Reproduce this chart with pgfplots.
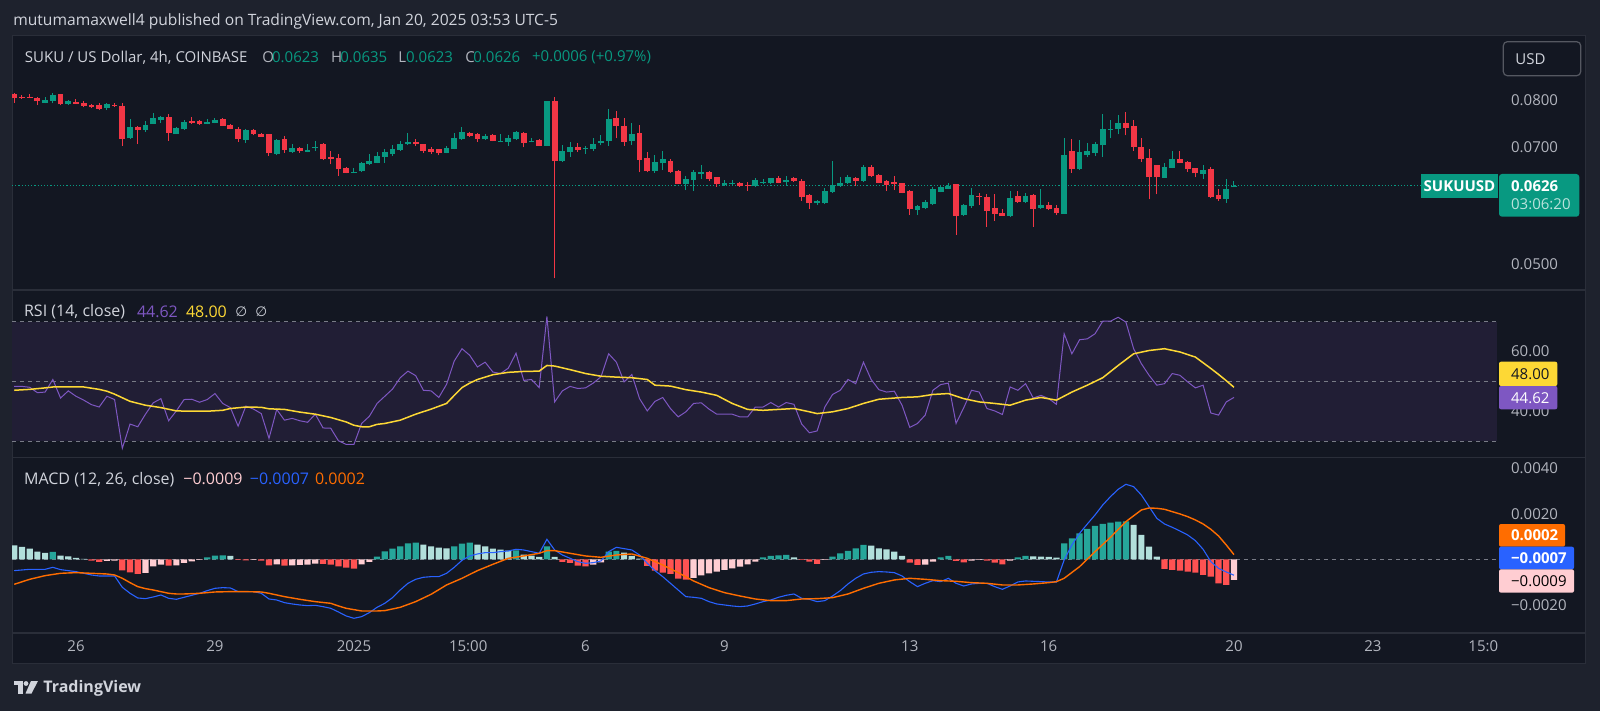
\documentclass[border=0pt]{standalone}
\usepackage{fontspec}
\setmainfont{Open Sans}
\newfontfamily\dejavu{DejaVu Sans}
\usepackage{pgfplots}
\usepackage{pgfplotstable}
\pgfplotsset{compat=1.18}

\definecolor{outer}{HTML}{1E222D}
\definecolor{pane}{HTML}{131722}
\definecolor{sep}{HTML}{2A2E39}
\definecolor{txt}{HTML}{D1D4DC}
\definecolor{muted}{HTML}{B2B5BE}
\definecolor{up}{HTML}{089981}
\definecolor{down}{HTML}{F23645}
\definecolor{rsiline}{HTML}{7E57C2}
\definecolor{rsima}{HTML}{FDD835}
\definecolor{rsiband}{HTML}{211E35}
\definecolor{level}{HTML}{787B86}
\definecolor{macdline}{HTML}{2962FF}
\definecolor{signal}{HTML}{FF6D00}
\definecolor{histD}{HTML}{26A69A}
\definecolor{histL}{HTML}{B2DFDB}
\definecolor{histR}{HTML}{FF5252}
\definecolor{histP}{HTML}{FFCDD2}

\newcommand\tv{\fontsize{7.5}{9}\selectfont}
\newcommand\tvh{\fontsize{8}{9}\selectfont}

% 4h candles, k = number of 4h bars after Dec 26 00:00
\pgfplotstableread{
k o h l c
-4 0.07939 0.08062 0.07924 0.08000
-3 0.07985 0.08154 0.07924 0.08116
-1 0.07909 0.08000 0.07894 0.07985
4 0.07827 0.07924 0.07775 0.07909
7 0.07170 0.07570 0.07156 0.07406
9 0.07350 0.07527 0.07301 0.07456
10 0.07470 0.07716 0.07470 0.07592
11 0.07555 0.07643 0.07498 0.07628
13 0.07259 0.07413 0.07259 0.07378
14 0.07357 0.07555 0.07343 0.07520
17 0.07477 0.07570 0.07463 0.07512
18 0.07498 0.07592 0.07484 0.07555
22 0.07136 0.07364 0.07082 0.07343
26 0.06863 0.07150 0.06830 0.07136
28 0.06902 0.07055 0.06882 0.06974
30 0.06902 0.07055 0.06889 0.06928
31 0.06974 0.07116 0.06921 0.06994
36 0.06499 0.06581 0.06487 0.06518
37 0.06524 0.06700 0.06512 0.06675
38 0.06662 0.06856 0.06643 0.06726
39 0.06688 0.06902 0.06675 0.06817
40 0.06804 0.06954 0.06688 0.06902
41 0.06863 0.07028 0.06817 0.06947
42 0.06934 0.07116 0.06921 0.07048
43 0.07048 0.07273 0.07034 0.07102
48 0.06882 0.07014 0.06869 0.06967
49 0.06954 0.07287 0.06947 0.07177
50 0.07150 0.07406 0.07136 0.07301
53 0.07150 0.07252 0.07136 0.07218
55 0.07095 0.07259 0.07089 0.07116
56 0.07095 0.07238 0.07021 0.07184
57 0.07150 0.07322 0.07143 0.07301
59 0.07095 0.07177 0.07089 0.07116
61 0.07021 0.07985 0.07014 0.07977
63 0.06719 0.07034 0.06706 0.06921
64 0.06902 0.07095 0.06804 0.07001
66 0.06947 0.07021 0.06856 0.06981
67 0.06954 0.07170 0.06915 0.07055
68 0.07082 0.07232 0.07028 0.07116
69 0.07116 0.07790 0.07021 0.07570
72 0.07116 0.07498 0.07041 0.07266
75 0.06531 0.06843 0.06499 0.06707
76 0.06675 0.06921 0.06549 0.06752
79 0.06298 0.06437 0.06185 0.06382
80 0.06364 0.06549 0.06167 0.06512
81 0.06481 0.06644 0.06389 0.06512
84 0.06268 0.06364 0.06256 0.06316
85 0.06292 0.06364 0.06268 0.06310
88 0.06250 0.06395 0.06244 0.06364
89 0.06316 0.06377 0.06292 0.06328
90 0.06316 0.06407 0.06292 0.06395
92 0.06322 0.06444 0.06280 0.06364
96 0.05954 0.06011 0.05925 0.05994
97 0.05954 0.06214 0.05943 0.06173
98 0.06156 0.06719 0.06138 0.06280
99 0.06256 0.06419 0.06244 0.06316
100 0.06316 0.06456 0.06298 0.06413
102 0.06352 0.06643 0.06334 0.06599
109 0.05841 0.05931 0.05758 0.05914
110 0.05869 0.06011 0.05858 0.05977
111 0.05937 0.06244 0.05925 0.06203
112 0.06156 0.06256 0.06144 0.06238
113 0.06209 0.06304 0.06197 0.06262
115 0.05758 0.05943 0.05747 0.05925
116 0.05908 0.06226 0.05880 0.06097
121 0.05742 0.06162 0.05731 0.06045
123 0.05983 0.06126 0.05965 0.06080
125 0.05880 0.06203 0.05864 0.05925
128 0.05780 0.07177 0.05775 0.06836
130 0.06568 0.07136 0.06549 0.06895
131 0.06836 0.07082 0.06791 0.06915
132 0.06882 0.07095 0.06817 0.07055
133 0.07028 0.07686 0.06804 0.07364
134 0.07343 0.07555 0.07170 0.07371
135 0.07357 0.07672 0.07252 0.07491
141 0.06407 0.06688 0.06401 0.06612
142 0.06593 0.06908 0.06581 0.06752
146 0.06481 0.06637 0.06377 0.06549
149 0.06034 0.06382 0.05965 0.06203
150 0.06230 0.06350 0.06230 0.06260
}\upc

\pgfplotstableread{
k o h l c
-8 0.08131 0.08170 0.07939 0.08054
-7 0.08077 0.08123 0.08031 0.08046
-6 0.08077 0.08131 0.08039 0.08054
-5 0.08046 0.08062 0.07894 0.07970
-2 0.08131 0.08139 0.07879 0.07901
0 0.07954 0.08015 0.07909 0.07916
1 0.07924 0.07970 0.07834 0.07864
2 0.07886 0.07909 0.07819 0.07834
3 0.07886 0.07924 0.07775 0.07805
5 0.07894 0.07924 0.07849 0.07864
6 0.07864 0.07924 0.07021 0.07156
8 0.07399 0.07434 0.07055 0.07343
12 0.07628 0.07686 0.07122 0.07287
15 0.07534 0.07628 0.07470 0.07498
16 0.07534 0.07555 0.07456 0.07470
19 0.07570 0.07592 0.07427 0.07434
20 0.07456 0.07463 0.07357 0.07357
21 0.07364 0.07413 0.07095 0.07156
23 0.07343 0.07371 0.07231 0.07259
24 0.07266 0.07287 0.07204 0.07204
25 0.07252 0.07259 0.06824 0.06869
27 0.07156 0.07218 0.06882 0.06934
29 0.06974 0.07001 0.06882 0.06921
32 0.07055 0.07068 0.06739 0.06765
33 0.06797 0.06915 0.06656 0.06765
34 0.06778 0.06856 0.06437 0.06562
35 0.06581 0.06599 0.06487 0.06499
44 0.07095 0.07156 0.07014 0.07048
45 0.07048 0.07055 0.06882 0.06921
46 0.06961 0.07001 0.06856 0.06902
47 0.06954 0.06961 0.06830 0.06869
51 0.07287 0.07294 0.07204 0.07225
52 0.07252 0.07273 0.07102 0.07156
54 0.07238 0.07252 0.07109 0.07116
58 0.07287 0.07308 0.06988 0.07082
60 0.07136 0.07150 0.07014 0.07021
62 0.07977 0.08077 0.04805 0.06713
65 0.07001 0.07068 0.06902 0.06934
70 0.07592 0.07745 0.07170 0.07434
71 0.07434 0.07599 0.07021 0.07102
73 0.07273 0.07441 0.06506 0.06739
74 0.06771 0.06889 0.06506 0.06531
77 0.06720 0.06765 0.06499 0.06512
78 0.06531 0.06543 0.06292 0.06298
82 0.06512 0.06537 0.06352 0.06389
83 0.06413 0.06425 0.06244 0.06298
86 0.06310 0.06322 0.06244 0.06256
87 0.06280 0.06328 0.06173 0.06262
91 0.06395 0.06444 0.06304 0.06316
93 0.06395 0.06419 0.06334 0.06346
94 0.06352 0.06377 0.06000 0.06068
95 0.06091 0.06114 0.05858 0.05954
101 0.06401 0.06413 0.06256 0.06346
103 0.06612 0.06643 0.06425 0.06437
104 0.06462 0.06475 0.06304 0.06310
105 0.06352 0.06364 0.06173 0.06274
106 0.06322 0.06444 0.06185 0.06298
107 0.06304 0.06316 0.06126 0.06138
108 0.06167 0.06185 0.05758 0.05864
114 0.06286 0.06292 0.05443 0.05747
117 0.06085 0.06138 0.05925 0.06057
118 0.06062 0.06114 0.05570 0.05830
119 0.05869 0.06114 0.05661 0.05775
120 0.05792 0.05852 0.05742 0.05747
122 0.06080 0.06167 0.05965 0.05983
124 0.06097 0.06114 0.05570 0.05864
126 0.05925 0.05977 0.05841 0.05852
127 0.05880 0.05925 0.05758 0.05786
129 0.06908 0.07163 0.06499 0.06562
136 0.07491 0.07731 0.07231 0.07392
137 0.07420 0.07555 0.06921 0.07001
138 0.06994 0.07170 0.06707 0.06752
139 0.06778 0.06954 0.06022 0.06413
140 0.06643 0.06643 0.06109 0.06413
143 0.06765 0.06915 0.06675 0.06688
144 0.06700 0.06713 0.06518 0.06562
145 0.06581 0.06593 0.06413 0.06487
147 0.06562 0.06612 0.06051 0.06062
148 0.06097 0.06203 0.06000 0.06022
}\downc

\pgfplotstableread{
k v
-8 48.3
-7 48.3
-6 48.0
-5 46.2
-4 46.4
-3 50.6
-2 44.4
-1 46.8
0 45.0
1 43.7
2 42.2
3 41.4
4 45.0
5 43.9
6 27.6
7 35.7
8 34.8
9 39.0
10 42.8
11 44.2
12 36.8
13 40.1
14 43.9
15 44.0
16 43.0
17 43.9
18 45.9
19 42.6
20 41.2
21 35.0
22 41.7
23 40.7
24 39.2
25 30.9
26 40.6
27 37.0
28 37.6
29 36.8
30 36.3
31 39.0
32 34.4
33 34.3
34 30.1
35 28.9
36 28.9
37 35.9
38 38.3
39 42.6
40 45.0
41 47.4
42 51.2
43 53.4
44 51.9
45 47.0
46 46.8
47 44.6
48 49.0
49 56.8
50 60.9
51 58.7
52 54.8
53 56.4
54 53.1
55 52.6
56 54.4
57 59.4
58 50.3
59 50.6
60 47.9
61 71.7
62 43.1
63 46.8
64 48.3
65 47.6
66 47.8
67 49.4
68 51.5
69 59.2
70 56.4
71 49.8
72 52.3
73 44.2
74 40.1
75 43.3
76 44.6
77 40.9
78 38.1
79 39.8
80 42.6
81 42.8
82 40.7
83 39.0
84 39.0
85 39.0
86 38.1
87 38.1
88 41.4
89 41.4
90 42.9
91 41.4
92 42.9
93 42.3
94 35.7
95 32.8
96 33.4
97 41.4
98 45.6
99 47.0
100 50.6
101 49.2
102 56.4
103 50.6
104 47.2
105 46.4
106 46.7
107 42.0
108 34.6
109 35.9
110 38.7
111 47.0
112 48.9
113 49.4
114 35.9
115 41.2
116 47.0
117 46.4
118 40.9
119 40.1
120 38.9
121 48.1
122 47.0
123 49.2
124 44.4
125 45.3
126 44.2
127 42.3
128 65.9
129 59.2
130 63.9
131 64.2
132 65.9
133 70.1
134 70.1
135 71.4
136 69.8
137 60.9
138 55.9
139 52.0
140 48.7
141 49.2
142 52.6
143 52.0
144 49.8
145 47.8
146 48.7
147 39.4
148 38.7
149 43.1
150 44.62
}\rsi

\pgfplotstableread{
k v
-8 47.0
-6 47.3
-4 47.8
-3 48.1
-1 48.1
1 48.1
3 47.3
4 46.7
5 45.7
7 43.3
9 42.0
11 41.2
13 40.1
15 40.0
17 40.0
19 40.3
20 40.9
22 41.4
24 41.3
25 40.8
27 40.6
29 39.7
31 39.0
33 37.9
35 36.4
36 35.3
37 34.8
38 34.8
39 35.6
40 35.9
42 37.0
44 39.0
46 40.7
48 42.6
49 45.3
50 47.9
51 49.4
52 50.6
54 52.2
56 53.0
58 53.3
60 53.4
61 55.3
62 55.1
64 53.9
66 52.6
68 51.7
70 51.4
72 51.2
74 50.6
75 48.7
77 48.4
79 47.2
81 46.4
83 45.3
85 42.6
87 40.6
89 40.3
91 40.6
93 40.9
95 39.8
96 39.2
98 39.8
100 40.9
102 42.6
104 44.0
107 44.6
109 44.8
111 45.6
113 45.9
115 44.2
117 43.1
119 42.6
121 42.0
123 43.7
125 44.6
127 43.7
129 46.4
131 48.7
133 51.2
135 55.3
137 59.2
139 60.3
141 60.9
143 59.8
145 58.1
147 54.3
148 52.3
149 50.2
150 48.0
}\rsima

% MACD line, histogram, histogram colour (0 rising>0, 1 falling>0, 2 falling<0, 3 rising<0)
\pgfplotstableread{
k m h c
-8 -0.000498 0.000615 1
-7 -0.000469 0.000542 1
-6 -0.000440 0.000469 1
-5 -0.000440 0.000337 1
-4 -0.000440 0.000278 1
-3 -0.000352 0.000322 0
-2 -0.000454 0.000161 1
-1 -0.000498 0.000132 1
0 -0.000542 0.000059 1
1 -0.000615 0.000015 1
2 -0.000689 -0.000059 2
3 -0.000733 -0.000117 2
4 -0.000733 -0.000073 3
5 -0.000733 -0.000059 3
6 -0.001231 -0.000484 2
7 -0.001494 -0.000571 2
8 -0.001700 -0.000645 2
9 -0.001729 -0.000601 3
10 -0.001656 -0.000308 3
11 -0.001568 -0.000234 3
12 -0.001714 -0.000278 2
13 -0.001758 -0.000264 3
14 -0.001670 -0.000161 3
15 -0.001582 -0.000088 3
16 -0.001495 -0.000029 3
17 -0.001377 0.000088 0
18 -0.001275 0.000161 0
19 -0.001245 0.000176 0
20 -0.001260 0.000147 1
21 -0.001421 -0.000029 2
22 -0.001421 -0.000044 2
23 -0.001421 -0.000029 3
24 -0.001494 -0.000059 2
25 -0.001744 -0.000264 2
26 -0.001788 -0.000220 3
27 -0.001905 -0.000278 2
28 -0.001963 -0.000264 3
29 -0.002007 -0.000249 3
30 -0.002037 -0.000234 3
31 -0.002022 -0.000190 3
32 -0.002081 -0.000205 2
33 -0.002154 -0.000234 2
34 -0.002315 -0.000308 2
35 -0.002491 -0.000366 2
36 -0.002593 -0.000410 2
37 -0.002520 -0.000220 3
38 -0.002344 -0.000117 3
39 -0.002110 0.000117 0
40 -0.001934 0.000352 0
41 -0.001685 0.000469 0
42 -0.001348 0.000571 0
43 -0.001055 0.000703 0
44 -0.000879 0.000733 0
45 -0.000791 0.000645 1
46 -0.000762 0.000571 1
47 -0.000762 0.000513 1
48 -0.000615 0.000484 1
49 -0.000352 0.000571 0
50 -0.000044 0.000689 0
51 0.000147 0.000733 0
52 0.000234 0.000645 1
53 0.000293 0.000571 1
54 0.000293 0.000469 1
55 0.000337 0.000425 1
56 0.000366 0.000381 1
57 0.000440 0.000396 0
58 0.000410 0.000205 1
59 0.000337 0.000161 1
60 0.000264 0.000103 1
61 0.000879 0.000571 0
62 0.000410 0.000103 1
63 0.000190 -0.000117 2
64 0.000044 -0.000161 2
65 -0.000103 -0.000278 2
66 -0.000176 -0.000308 2
67 -0.000147 -0.000234 3
68 -0.000073 -0.000132 3
69 0.000337 0.000337 0
70 0.000527 0.000366 0
71 0.000469 0.000293 1
72 0.000410 0.000147 1
73 0.000190 0.000029 1
74 -0.000176 -0.000293 2
75 -0.000498 -0.000498 2
76 -0.000762 -0.000586 2
77 -0.001055 -0.000645 2
78 -0.001348 -0.000850 2
79 -0.001641 -0.000894 2
80 -0.001670 -0.000821 3
81 -0.001714 -0.000703 3
82 -0.001861 -0.000615 3
83 -0.001963 -0.000542 3
84 -0.002007 -0.000469 3
85 -0.002051 -0.000396 3
86 -0.002081 -0.000322 3
87 -0.002051 -0.000220 3
88 -0.001963 -0.000103 3
89 -0.001861 0.000088 0
90 -0.001788 0.000147 0
91 -0.001670 0.000176 0
92 -0.001582 0.000190 0
93 -0.001524 0.000088 1
94 -0.001714 -0.000029 2
95 -0.001758 -0.000103 2
96 -0.001861 -0.000205 2
97 -0.001817 -0.000029 3
98 -0.001612 0.000117 0
99 -0.001377 0.000264 0
100 -0.001084 0.000366 0
101 -0.000835 0.000484 0
102 -0.000645 0.000630 0
103 -0.000571 0.000601 1
104 -0.000542 0.000484 1
105 -0.000557 0.000440 1
106 -0.000586 0.000337 1
107 -0.000733 0.000147 1
108 -0.000982 -0.000147 2
109 -0.001201 -0.000249 2
110 -0.001055 -0.000234 3
111 -0.000938 -0.000103 3
112 -0.000982 0.000088 0
113 -0.000835 0.000147 0
114 -0.001055 -0.000073 2
115 -0.001172 -0.000132 2
116 -0.001084 -0.000059 3
117 -0.001055 -0.000029 3
118 -0.001055 -0.000059 2
119 -0.001201 -0.000147 2
120 -0.001319 -0.000220 2
121 -0.001172 -0.000059 3
122 -0.000996 0.000088 0
123 -0.000952 0.000147 0
124 -0.000967 0.000132 1
125 -0.000982 0.000117 1
126 -0.000996 0.000103 1
127 -0.000996 0.000073 1
128 -0.000029 0.000703 0
129 0.000630 0.000923 0
130 0.001143 0.001143 0
131 0.001553 0.001333 0
132 0.001949 0.001465 0
133 0.002388 0.001553 0
134 0.002755 0.001612 0
135 0.003077 0.001656 0
136 0.003297 0.001670 0
137 0.003194 0.001509 1
138 0.002828 0.001070 1
139 0.002315 0.000557 1
140 0.001802 0.000117 1
141 0.001553 -0.000425 2
142 0.001407 -0.000469 2
143 0.001245 -0.000498 2
144 0.001070 -0.000542 2
145 0.000821 -0.000586 2
146 0.000440 -0.000689 2
147 -0.000103 -0.000762 2
148 -0.000396 -0.001055 2
149 -0.000557 -0.001128 2
150 -0.000700 -0.000900 3
}\macd

\pgfplotstableread{
k s
-8 -0.001099
-6 -0.000879
-4 -0.000718
-2 -0.000615
0 -0.000586
2 -0.000615
4 -0.000645
5 -0.000689
6 -0.000835
7 -0.001026
8 -0.001201
9 -0.001289
10 -0.001348
11 -0.001421
12 -0.001494
13 -0.001524
14 -0.001524
16 -0.001494
18 -0.001436
20 -0.001421
22 -0.001421
24 -0.001436
25 -0.001494
27 -0.001641
29 -0.001758
31 -0.001861
33 -0.001934
34 -0.002051
35 -0.002154
37 -0.002271
39 -0.002271
40 -0.002256
42 -0.002110
44 -0.001861
46 -0.001538
48 -0.001128
50 -0.000835
52 -0.000498
54 -0.000220
56 0.000044
58 0.000147
60 0.000264
61 0.000381
62 0.000381
64 0.000264
66 0.000147
68 0.000088
70 0.000190
72 0.000234
74 0.000044
76 -0.000249
78 -0.000586
80 -0.000952
82 -0.001245
84 -0.001465
86 -0.001612
88 -0.001744
90 -0.001817
92 -0.001817
94 -0.001744
96 -0.001729
98 -0.001685
100 -0.001524
102 -0.001275
104 -0.001055
106 -0.000908
108 -0.000835
110 -0.000879
112 -0.000938
114 -0.000967
116 -0.001026
118 -0.001055
120 -0.001128
122 -0.001128
124 -0.001084
126 -0.001026
127 -0.000982
128 -0.000835
130 -0.000322
132 0.000337
134 0.000967
136 0.001656
138 0.002168
139 0.002256
140 0.002242
141 0.002198
142 0.002095
143 0.001993
144 0.001875
145 0.001729
146 0.001553
147 0.001319
148 0.001026
149 0.000630
150 0.000205
}\signaltab

\pgfplotsset{
  hist col/.style={restrict expr to domain={\thisrow{c}}{#1}},
  tv pane/.style={
    scale only axis, width=742.5pt,
    xmin=-8.29, xmax=184.07,
    axis line style={draw=none},
    major tick length=0pt,
    xtick=\empty,
    yticklabel pos=right,
    scaled y ticks=false,
    ticklabel style={font=\tv, text=muted},
    yticklabel style={anchor=west, inner sep=0pt, xshift=6.85pt},
    /pgf/number format/assume math mode=true,
  },
  wick/.style={draw=none, error bars/.cd, y dir=plus, y explicit, error mark=none,
    error bar style={draw=#1, line width=0.5pt}},
  body/.style={draw=none, error bars/.cd, y dir=plus, y explicit, error mark=none,
    error bar style={draw=#1, line width=2.9pt}},
}

\begin{document}
\begin{tikzpicture}[x=0.5pt, y=-0.5pt]
\useasboundingbox (0,0) rectangle (1600,711);
\fill[outer] (0,0) rectangle (1600,711);
\fill[pane, draw=sep, line width=0.5pt] (12,36) rectangle (1585,663);
\draw[sep, line width=0.6pt] (12,290) -- (1585,290);
\draw[sep, line width=0.6pt] (12,457.7) -- (1585,457.7);
\draw[sep, line width=0.6pt] (12,633) -- (1585,633);
\coordinate (P1) at (12,36);
\coordinate (P2) at (12,290);
\coordinate (P3) at (12,457.7);

% price pane (log price scale)
\begin{axis}[tv pane, at={(P1)}, anchor=north west, height=127pt,
  ymin=-3.068897, ymax=-2.342767,
  ytick={-2.995732,-2.659260,-2.525729}, yticklabels={0.0500,0.0700,0.0800}]
\draw[up, line width=0.6pt, dash pattern=on 0.6pt off 1pt] (axis cs:-8.29,-2.770990) -- (axis cs:174.1,-2.770990);
\addplot[wick=down] table[x=k, y expr={ln(\thisrow{l})}, y error plus expr={ln(\thisrow{h})-ln(\thisrow{l})}] {\downc};
\addplot[wick=up] table[x=k, y expr={ln(\thisrow{l})}, y error plus expr={ln(\thisrow{h})-ln(\thisrow{l})}] {\upc};
\addplot[body=down] table[x=k, y expr={ln(\thisrow{c})}, y error plus expr={max(ln(\thisrow{o})-ln(\thisrow{c}),0.003)}] {\downc};
\addplot[body=up] table[x=k, y expr={ln(\thisrow{o})}, y error plus expr={max(ln(\thisrow{c})-ln(\thisrow{o}),0.003)}] {\upc};
\end{axis}

% RSI pane
\begin{axis}[tv pane, at={(P2)}, anchor=north west, height=83.85pt,
  ymin=24.448, ymax=80.535, ytick={40,60}, yticklabels={40.00,60.00}]
\fill[rsiband] (axis cs:-8.29,30) rectangle (axis cs:184.07,70);
\draw[level, line width=0.5pt, dash pattern=on 2pt off 2pt] (axis cs:-8.29,70) -- (axis cs:184.07,70);
\draw[level, line width=0.5pt, dash pattern=on 2pt off 2pt] (axis cs:-8.29,50) -- (axis cs:184.07,50);
\draw[level, line width=0.5pt, dash pattern=on 2pt off 2pt] (axis cs:-8.29,30) -- (axis cs:184.07,30);
\addplot[draw=rsiline, line width=0.5pt] table[x=k, y=v] {\rsi};
\addplot[draw=rsima, line width=0.75pt] table[x=k, y=v] {\rsima};
\end{axis}

% MACD pane
\begin{axis}[tv pane, at={(P3)}, anchor=north west, height=87.65pt,
  ymin=-0.0032396, ymax=0.0044659,
  ytick={-0.002,0.002,0.004}, yticklabels={−0.0020,0.0020,0.0040},
  xtick={0,18,36,50.8,66,84,108,126,150,168,182.3},
  xticklabels={26,29,2025,15:00,6,9,13,16,20,23,15:0},
  xticklabel style={anchor=center, inner sep=0pt, yshift=-6.5pt}]
\draw[level, line width=0.5pt, dash pattern=on 2pt off 2pt] (axis cs:-8.29,0) -- (axis cs:184.07,0);
\addplot[ybar, bar width=3.1pt, bar shift=0pt, fill=histD, draw=none, hist col={-0.5:0.5}] table[x=k, y=h] {\macd};
\addplot[ybar, bar width=3.1pt, bar shift=0pt, fill=histL, draw=none, hist col={0.5:1.5}] table[x=k, y=h] {\macd};
\addplot[ybar, bar width=3.1pt, bar shift=0pt, fill=histR, draw=none, hist col={1.5:2.5}] table[x=k, y=h] {\macd};
\addplot[ybar, bar width=3.1pt, bar shift=0pt, fill=histP, draw=none, hist col={2.5:3.5}] table[x=k, y=h] {\macd};
\addplot[draw=macdline, line width=0.55pt] table[x=k, y=m] {\macd};
\addplot[draw=signal, line width=0.7pt] table[x=k, y=s] {\signaltab};
\end{axis}

% header texts
\node[anchor=west, inner sep=0pt, text=txt, font=\fontsize{7.8}{9}\selectfont] at (13,21.5)
  {mutumamaxwell4 published on TradingView.com, Jan 20, 2025 03:53 UTC-5};
\begin{scope}[every node/.style={anchor=west, inner sep=0pt, font=\tv}]
\node[text=txt] at (24.5,57.3) {SUKU / US Dollar, 4h, COINBASE};
\node[text=muted] at (262,57.3) {O};
\node[text=up] at (271.7,57.3) {0.0623};
\node[text=muted] at (330.7,57.3) {H};
\node[text=up] at (340,57.3) {0.0635};
\node[text=muted] at (398,57.3) {L};
\node[text=up] at (405.7,57.3) {0.0623};
\node[text=muted] at (465,57.3) {C};
\node[text=up] at (473,57.3) {0.0626};
\node[text=up] at (531.7,57.3) {+0.0006 (+0.97\%)};
\node[text=txt, font=\tvh] at (23.7,311.7) {RSI (14, close)};
\node[text=rsiline, font=\tvh] at (136.6,311.7) {44.62};
\node[text=rsima, font=\tvh] at (185.6,311.7) {48.00};
\node[text=txt, font=\dejavu\fontsize{6.8}{8}\selectfont] at (235,311.7) {∅};
\node[text=txt, font=\dejavu\fontsize{6.8}{8}\selectfont] at (255,311.7) {∅};
\node[text=txt, font=\tvh] at (23.7,479.3) {MACD (12, 26, close)};
\node[text=histP, font=\tvh] at (183,479.3) {−0.0009};
\node[text=macdline, font=\tvh] at (249.5,479.3) {−0.0007};
\node[text=signal, font=\tvh] at (314.6,479.3) {0.0002};
\end{scope}

% price scale boxes
\draw[draw=sep!80!white, line width=0.6pt, rounded corners=2pt, fill=pane] (1503.3,41.7) rectangle (1580.7,75.7);
\node[text=txt, font=\tv, inner sep=0pt] at (1530.5,58.7) {USD};
\fill[up] (1420.7,174) rectangle (1498.3,197.7);
\node[text=white, font=\tv\bfseries, inner sep=0pt] at (1459.5,186) {SUKUUSD};
\fill[up, rounded corners=1.5pt] (1499,174) rectangle (1579.3,216.7);
\node[anchor=west, text=white, font=\tv\bfseries, inner sep=0pt] at (1510.7,186) {0.0626};
\node[anchor=west, text=white!72!up, font=\tv, inner sep=0pt] at (1510.7,204.3) {03:06:20};

\fill[rsima, rounded corners=1pt] (1499,361.7) rectangle (1557.3,386);
\node[anchor=west, text=pane, font=\tv, inner sep=0pt] at (1510.7,374) {48.00};
\fill[rsiline, rounded corners=1pt] (1499,386) rectangle (1557.3,409.3);
\node[anchor=west, text=white, font=\tv, inner sep=0pt] at (1510.7,397.7) {44.62};

\fill[signal, rounded corners=1pt] (1499,524) rectangle (1565,546.7);
\node[anchor=west, text=white, font=\tv\bfseries, inner sep=0pt] at (1510.7,535.3) {0.0002};
\fill[macdline, rounded corners=1pt] (1499,546.7) rectangle (1574,569.3);
\node[anchor=west, text=white, font=\tv\bfseries, inner sep=0pt] at (1510.7,558) {−0.0007};
\fill[histP, rounded corners=1pt] (1499,569.3) rectangle (1574,592.7);
\node[anchor=west, text=black, font=\tv, inner sep=0pt] at (1510.7,581) {−0.0009};

% footer logo
\fill[txt] (13.5,681) rectangle (22.5,685);
\fill[txt] (17.5,681) rectangle (22.5,693.5);
\fill[txt] (26,683.5) circle[radius=1.2pt];
\fill[txt] (31,681) -- (38,681) -- (31.5,693.5) -- (25.5,693.5) -- cycle;
\node[anchor=west, text=txt, font=\fontsize{8}{9}\selectfont\bfseries, inner sep=0pt] at (43,688) {TradingView};
\end{tikzpicture}
\end{document}
